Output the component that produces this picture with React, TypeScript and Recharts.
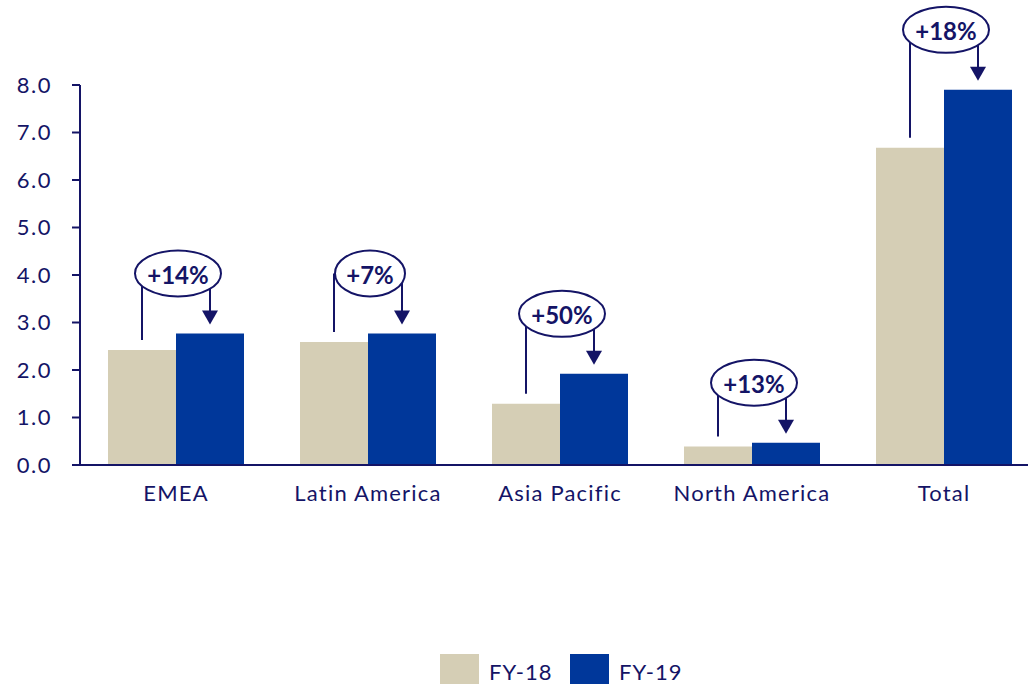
import React from 'react'
import { BarChart, Bar, XAxis, YAxis, LabelList } from 'recharts'

const categories = ['EMEA', 'Latin America', 'Asia Pacific', 'North America', 'Total']
const fy18 = [2.42, 2.59, 1.29, 0.39, 6.68]
const fy19 = [2.77, 2.77, 1.92, 0.47, 7.9]
const growth = ['+14%', '+7%', '+50%', '+13%', '+18%']
const yTicks = [0, 1, 2, 3, 4, 5, 6, 7, 8]

const NAVY = '#141466'
const BEIGE = '#D5CEB5'
const BLUE = '#00379A'
const FONT = 'Lato, "Noto Sans", sans-serif'

const rows = categories.map((name, i) => ({ name, fy18: fy18[i], fy19: fy19[i] }))

// drawn on the FY-19 bar; FY-18 top is derived from the bar's own px/unit
const GrowthMarker = (props: any) => {
  const { x, y, width, height, index } = props
  const v19 = fy19[index]
  const v18 = fy18[index]
  const pxPerUnit = height / v19
  const top18 = y + height - v18 * pxPerUnit
  const x18 = x - width / 2
  const x19 = x + width / 2
  const cy = y - 60
  const cx = (x18 + x19) / 2 + 2
  const label = growth[index]
  const rx = label.length >= 4 ? 43 : 35
  const tip = y - 9
  return (
    <g>
      <line x1={x18} y1={top18 - 10} x2={x18} y2={cy} stroke={NAVY} strokeWidth={2} />
      <line x1={x19} y1={cy} x2={x19} y2={tip - 12} stroke={NAVY} strokeWidth={2} />
      <polygon points={`${x19 - 8},${tip - 14} ${x19 + 8},${tip - 14} ${x19},${tip}`} fill={NAVY} />
      <ellipse cx={cx} cy={cy} rx={rx} ry={23} fill="#fff" stroke={NAVY} strokeWidth={2} />
      <text x={cx} y={cy + 1} textAnchor="middle" dominantBaseline="central" fontFamily={FONT}
        fontWeight="bold" fontSize={24} fill={NAVY}>
        {label}
      </text>
    </g>
  )
}

export default function App() {
  return (
    <div style={{ position: 'absolute', left: 0, top: 0, width: 1028, height: 684, overflow: 'hidden', background: '#fff', fontFamily: FONT }}>
      <BarChart width={1040} height={684} data={rows} barGap={0} margin={{ top: 85, right: 0, left: 0, bottom: 159 }}>
        <XAxis
          dataKey="name"
          height={60}
          tickLine={false}
          tickSize={0}
          tickMargin={20}
          axisLine={{ stroke: NAVY, strokeWidth: 2 }}
          tick={{ fill: NAVY, fontSize: 22, fontFamily: FONT, letterSpacing: 1.2 }}
        />
        <YAxis
          width={80}
          domain={[0, 8]}
          ticks={yTicks}
          interval={0}
          tickFormatter={(v: number) => v.toFixed(1)}
          tickSize={8}
          tickMargin={20}
          axisLine={{ stroke: NAVY, strokeWidth: 2 }}
          tickLine={{ stroke: NAVY, strokeWidth: 2 }}
          tick={{ fill: NAVY, fontSize: 22, fontFamily: FONT, letterSpacing: 1.5 }}
        />
        <Bar dataKey="fy18" name="FY-18" fill={BEIGE} barSize={68} isAnimationActive={false} />
        <Bar dataKey="fy19" name="FY-19" fill={BLUE} barSize={68} isAnimationActive={false}>
          <LabelList dataKey="fy19" content={<GrowthMarker />} />
        </Bar>
      </BarChart>
      <div style={{ position: 'absolute', left: 440, top: 654, display: 'flex', alignItems: 'flex-start', color: NAVY, fontSize: 22, letterSpacing: 1 }}>
        <div style={{ width: 39, height: 39, background: BEIGE }} />
        <span style={{ marginLeft: 10, marginTop: 4, width: 81 }}>FY-18</span>
        <div style={{ width: 39, height: 39, background: BLUE }} />
        <span style={{ marginLeft: 10, marginTop: 4 }}>FY-19</span>
      </div>
    </div>
  )
}
